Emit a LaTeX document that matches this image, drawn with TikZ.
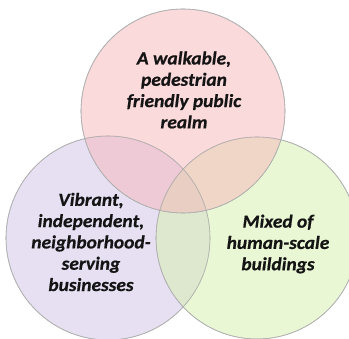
\documentclass[tikz,border=0pt]{standalone}
\usepackage{fontspec}
\setmainfont{Carlito}[Extension=.ttf, UprightFont=*-Regular, BoldFont=*-Bold, ItalicFont=*-Italic, BoldItalicFont=*-BoldItalic, BoldItalicFeatures={FakeBold=0.6}]
\definecolor{pinkc}{HTML}{F5B5B8}
\definecolor{lavc}{HTML}{CDC1E6}
\definecolor{greenc}{HTML}{D6F0AC}
\definecolor{rimc}{HTML}{B0B0B0}
\definecolor{txtc}{HTML}{141414}
\tikzset{
  venn/.style={draw=rimc, line width=0.6pt, fill opacity=0.5},
  lbl/.style={align=center, text=txtc, font=\fontsize{18.5}{21.3}\selectfont\bfseries\itshape, inner sep=0pt, xscale=1.05}
}
\begin{document}
\begin{tikzpicture}[x=1pt,y=-1pt]
\useasboundingbox (0,0) rectangle (349,339);
\begin{scope}
\clip (0,0) rectangle (349,339);
\fill[venn, fill=lavc] (108,238) circle (102);
\fill[venn, fill=greenc] (257,238) circle (101);
\fill[venn, fill=pinkc] (183,111) circle (102);
\draw[rimc, line width=0.6pt] (108,238) circle (102);
\draw[rimc, line width=0.6pt] (257,238) circle (101);
\draw[rimc, line width=0.6pt] (183,111) circle (102);
\end{scope}
\node[lbl] (top) at (184,90) {A walkable,\\pedestrian\\friendly public\\realm};
\node[lbl] (left) at (91,242) {Vibrant,\\independent,\\neighborhood-\\serving\\businesses};
\node[lbl] (right) at (278,244) {Mixed of\\human-scale\\buildings};
\end{tikzpicture}
\end{document}
